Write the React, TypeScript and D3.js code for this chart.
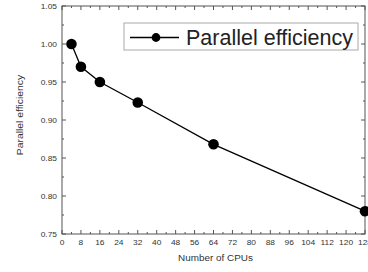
import React from "react";
import * as d3 from "d3";

const cpus = [4, 8, 16, 32, 64, 128];
const efficiency = [1.0, 0.97, 0.95, 0.923, 0.868, 0.78];
const xTicks = [0, 8, 16, 24, 32, 40, 48, 56, 64, 72, 80, 88, 96, 104, 112, 120, 128];
const yTicks = [0.75, 0.8, 0.85, 0.9, 0.95, 1.0, 1.05];
const legendLabel = "Parallel efficiency";
const xTitle = "Number of CPUs";
const yTitle = "Parallel efficiency";

export default function App() {
  const W = 368, H = 272;
  const L = 62, R = 365, T = 6, B = 234;
  const x = d3.scaleLinear().domain([0, 128]).range([L, R]);
  const y = d3.scaleLinear().domain([0.75, 1.05]).range([B, T]);
  const line = d3.line<number>().x((_, i) => x(cpus[i])).y((d) => y(d));
  const xMinor = xTicks.slice(0, -1).map((t) => t + 4);
  const yMinor = yTicks.slice(0, -1).map((t) => t + 0.025);
  const axisC = "#555";
  const textC = "#333";
  const font = "Liberation Sans, Arial, sans-serif";
  return (
    <svg width={W} height={H} style={{ position: "absolute", left: 0, top: 0, background: "#fff" }}>
      <rect x={0} y={0} width={W} height={H} fill="#fff" />
      {/* frame */}
      <rect x={L} y={T} width={R - L} height={B - T} fill="none" stroke={axisC} strokeWidth={1} />
      {/* x ticks */}
      {xTicks.map((t) => (
        <g key={"xt" + t}>
          <line x1={x(t)} x2={x(t)} y1={B} y2={B - 4} stroke={axisC} />
          <line x1={x(t)} x2={x(t)} y1={T} y2={T + 4} stroke={axisC} />
          <text
            transform={`translate(${x(t)},${245}) scale(1.2,1)`}
            textAnchor="middle"
            fontSize={7}
            fontFamily={font}
            fill={textC}
          >
            {t}
          </text>
        </g>
      ))}
      {xMinor.map((t) => (
        <g key={"xm" + t}>
          <line x1={x(t)} x2={x(t)} y1={B} y2={B - 2} stroke={axisC} />
          <line x1={x(t)} x2={x(t)} y1={T} y2={T + 2} stroke={axisC} />
        </g>
      ))}
      {/* y ticks */}
      {yTicks.map((t) => (
        <g key={"yt" + t}>
          <line x1={L} x2={L + 4} y1={y(t)} y2={y(t)} stroke={axisC} />
          <line x1={R} x2={R - 4} y1={y(t)} y2={y(t)} stroke={axisC} />
          <text
            transform={`translate(${57},${y(t) + 2.5}) scale(1.2,1)`}
            textAnchor="end"
            fontSize={7}
            fontFamily={font}
            fill={textC}
          >
            {d3.format(".2f")(t)}
          </text>
        </g>
      ))}
      {yMinor.map((t) => (
        <g key={"ym" + t}>
          <line x1={L} x2={L + 2} y1={y(t)} y2={y(t)} stroke={axisC} />
          <line x1={R} x2={R - 2} y1={y(t)} y2={y(t)} stroke={axisC} />
        </g>
      ))}
      {/* titles */}
      <text
        transform={`translate(215.5,260.5) scale(1.1,1)`}
        textAnchor="middle"
        fontSize={9}
        fontFamily={font}
        fill={textC}
      >
        {xTitle}
      </text>
      <text
        transform={`translate(23,115) rotate(-90) scale(1.15,1)`}
        textAnchor="middle"
        fontSize={9}
        fontFamily={font}
        fill={textC}
      >
        {yTitle}
      </text>
      {/* data */}
      <path d={line(efficiency) || ""} fill="none" stroke="#000" strokeWidth={1.3} />
      {efficiency.map((v, i) => (
        <circle key={"p" + i} cx={x(cpus[i])} cy={y(v)} r={5.3} fill="#000" />
      ))}
      {/* legend */}
      <rect x={124} y={23} width={234} height={27} fill="#fff" stroke="#aaa" strokeWidth={1} />
      <line x1={130} x2={179} y1={37.5} y2={37.5} stroke="#000" strokeWidth={1.6} />
      <circle cx={156} cy={37.5} r={4.4} fill="#000" />
      <text x={186} y={45} fontSize={21.5} fontFamily={font} fill="#222">
        {legendLabel}
      </text>
    </svg>
  );
}
